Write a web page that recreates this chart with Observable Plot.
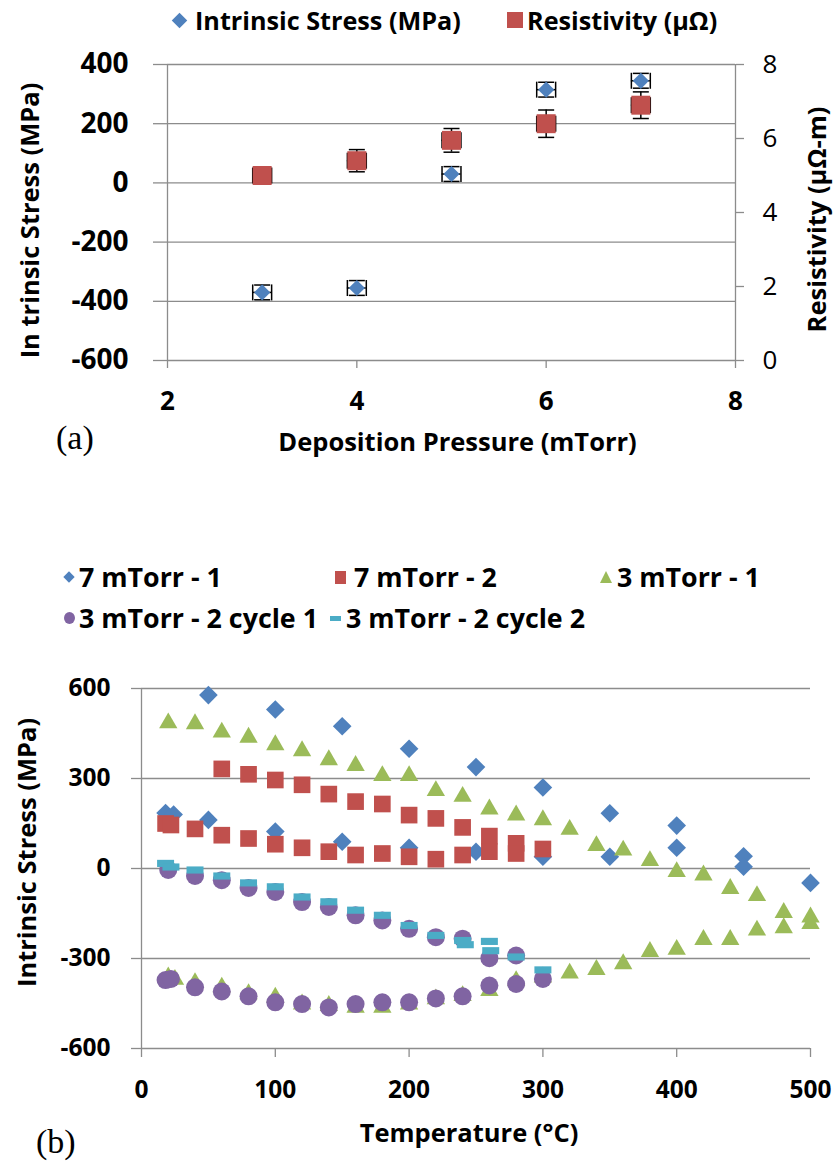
<!DOCTYPE html>
<html>
<head>
<meta charset="utf-8">
<script src="https://cdn.jsdelivr.net/npm/d3@7"></script>
<script src="https://cdn.jsdelivr.net/npm/@observablehq/plot@0.6"></script>
<style>
  html, body { margin: 0; padding: 0; background: #fff; }
  #page { position: relative; width: 833px; height: 1162px; overflow: hidden; font-family: "Open Sans", sans-serif; }
  #page svg { position: absolute; left: 0; }
  .lg { position: absolute; font-family: "Open Sans", sans-serif; font-weight: bold; line-height: 30px; white-space: nowrap; color: #000; }
  .sym { position: absolute; }
  .panel { position: absolute; font-family: "Liberation Serif", "Times New Roman", serif; font-size: 34px; line-height: 40px; color: #000; }
</style>
</head>
<body>
<div id="page"></div>
<script>
// ---------- (a) stress and resistivity vs deposition pressure ----------
const pressure = [3, 4, 5, 6, 7];
const pressureErr = [0.1, 0.1, 0.1, 0.1, 0.1];
const stress = [-370, -355, 30, 315, 345];
const stressErr = [25, 25, 25, 25, 25];
const resistivity = [5.0, 5.4, 5.95, 6.4, 6.9];
const resistivityErr = [0.2, 0.3, 0.32, 0.37, 0.36];
const pressureTicks = [2, 4, 6, 8];
const stressTicksA = [-600, -400, -200, 0, 200, 400];
const resistivityTicks = [0, 2, 4, 6, 8];

// ---------- (b) stress vs temperature ----------
const temp7m1 = [18, 24, 50, 100, 150, 200, 250, 300, 350, 400, 450, 500, 450, 400, 350, 300, 250, 200, 150, 100, 50];
const stress7m1 = [185, 180, 578, 530, 474, 399, 338, 270, 184, 143, 41, -48, 6, 69, 39, 39, 56, 69, 89, 123, 162];

const temp7m2 = [18, 22, 60, 80, 100, 120, 140, 160, 180, 200, 220, 240, 260, 280, 300,
                 40, 60, 80, 100, 120, 140, 160, 180, 200, 220, 240, 260, 280];
const stress7m2 = [150, 145, 332, 314, 295, 279, 248, 223, 215, 178, 167, 137, 108, 84, 65,
                   132, 111, 100, 81, 69, 56, 45, 50, 39, 31, 45, 56, 50];

const temp3m1 = [20, 40, 60, 80, 100, 120, 140, 160, 180, 200, 220, 240, 260, 280, 300, 320, 340, 360, 380, 400, 420, 440, 460, 480, 500,
                 500, 480, 460, 440, 420, 400, 380, 360, 340, 320, 300, 280, 260, 240, 220, 200, 180, 160, 140, 120, 100, 80, 60, 40, 25, 20];
const stress3m1 = [485, 482, 454, 437, 412, 392, 362, 343, 309, 309, 259, 240, 198, 178, 162, 130, 76, 61, 26, -11, -22, -67, -91, -147, -162,
                   -184, -198, -206, -237, -237, -270, -277, -318, -337, -349, -362, -374, -407, -424, -435, -452, -463, -463, -457, -452, -429, -418, -396, -381, -370, -362];

const temp3m2c1 = [18, 22, 40, 60, 80, 100, 120, 140, 160, 180, 200, 220, 240, 260, 280, 300,
                   20, 40, 60, 80, 100, 120, 140, 160, 180, 200, 220, 240, 260, 280];
const stress3m2c1 = [-372, -368, -396, -410, -426, -446, -452, -463, -452, -446, -446, -433, -426, -390, -385, -368,
                     -5, -25, -39, -65, -78, -112, -128, -156, -173, -201, -229, -234, -299, -290];

const temp3m2c2 = [18, 22, 40, 60, 80, 100, 120, 140, 160, 180, 200, 220, 240, 242, 260, 261, 280, 300];
const stress3m2c2 = [17, 5, -5, -25, -48, -61, -95, -111, -139, -156, -190, -223, -240, -254, -243, -274, -295, -338];

const tempTicks = [0, 100, 200, 300, 400, 500];
const stressTicksB = [-600, -300, 0, 300, 600];

// ---------- styling ----------
const BLUE = "#4F81BD", RED = "#C0504D", GREEN = "#9BBB59", PURPLE = "#8064A2", CYAN = "#4BACC6";
const GRID = "#8c8c8c";
const FONT = "'Open Sans', sans-serif";
const svgStyle = { background: "transparent", overflow: "visible", fontFamily: FONT, fontWeight: "bold" };

// custom marker shapes (size is the symbol area, r recovered from it)
const rOf = s => Math.sqrt(s / Math.PI);
const capH = { draw(c, s) { const r = rOf(s); c.moveTo(-r, 0); c.lineTo(r, 0); } };
const capV = { draw(c, s) { const r = rOf(s); c.moveTo(0, -r); c.lineTo(0, r); } };
const dashSym = { draw(c, s) { const r = rOf(s), h = 0.42 * r;
  c.moveTo(-r, -h); c.lineTo(r, -h); c.lineTo(r, h); c.lineTo(-r, h); c.closePath(); } };

// x and y error bars with end caps
function errorBars(rows, xk, yk, xe, ye) {
  const st = { stroke: "#000", strokeWidth: 1.5 };
  return [
    Plot.ruleX(rows, { x: xk, y1: d => d[yk] - d[ye], y2: d => d[yk] + d[ye], ...st }),
    Plot.ruleY(rows, { y: yk, x1: d => d[xk] - d[xe], x2: d => d[xk] + d[xe], ...st }),
    Plot.dot(rows, { x: xk, y: d => d[yk] - d[ye], symbol: capH, r: 8, fill: "none", ...st }),
    Plot.dot(rows, { x: xk, y: d => d[yk] + d[ye], symbol: capH, r: 8, fill: "none", ...st }),
    Plot.dot(rows, { x: d => d[xk] - d[xe], y: yk, symbol: capV, r: 8, fill: "none", ...st }),
    Plot.dot(rows, { x: d => d[xk] + d[xe], y: yk, symbol: capV, r: 8, fill: "none", ...st })
  ];
}

const rowsA = pressure.map((p, i) => ({
  p, pe: pressureErr[i], s: stress[i], se: stressErr[i], r: resistivity[i], re: resistivityErr[i]
}));

const frameA = { width: 833, height: 430, marginLeft: 167, marginRight: 98, marginTop: 24, marginBottom: 110 };
const titleStyle = { textAnchor: "middle", lineAnchor: "middle", fontSize: 25.5, fontWeight: "bold", fontFamily: FONT, fill: "#000" };

// left scale: intrinsic stress, with grid and x axis
const plotA = Plot.plot({
  ...frameA,
  style: svgStyle,
  x: { domain: [2, 8] },
  y: { domain: [-600, 400] },
  marks: [
    Plot.gridY({ ticks: stressTicksA, stroke: GRID, strokeOpacity: 1, strokeWidth: 1.3 }),
    Plot.ruleX([2], { stroke: GRID, strokeWidth: 1.3 }),
    Plot.axisY({ ticks: stressTicksA, tickSize: 14, tickPadding: 25, tickFormat: d => String(d),
      stroke: GRID, strokeWidth: 1.3, fill: "#000", fontSize: 28, fontWeight: "bold", fontFamily: FONT, label: null }),
    Plot.axisX({ ticks: pressureTicks, tickSize: 8, tickPadding: 23, tickFormat: d => String(d),
      stroke: GRID, strokeWidth: 1.3, fill: "#000", fontSize: 26, fontWeight: "bold", fontFamily: FONT, label: null }),
    ...errorBars(rowsA, "p", "s", "pe", "se"),
    Plot.dot(rowsA, { x: "p", y: "s", symbol: "diamond2", r: 7.3, fill: BLUE, stroke: "none" }),
    Plot.text(["In trinsic Stress (MPa)"], { text: d => d, frameAnchor: "left", dx: -137, dy: 8, rotate: -90, ...titleStyle }),
    Plot.text(["Deposition Pressure (mTorr)"], { text: d => d, frameAnchor: "bottom", dx: 6, dy: 82, ...titleStyle })
  ]
});

// right scale: resistivity, overlaid on the same frame
const plotB = Plot.plot({
  ...frameA,
  style: svgStyle,
  x: { domain: [2, 8], axis: null },
  y: { domain: [0, 8] },
  marks: [
    Plot.ruleX([8], { stroke: GRID, strokeWidth: 1.3 }),
    Plot.axisY({ anchor: "right", ticks: resistivityTicks, tickSize: 8, tickPadding: 19, tickFormat: d => String(d),
      stroke: GRID, strokeWidth: 1.3, fill: "#000", fontSize: 26, fontWeight: "normal", fontFamily: FONT, label: null }),
    ...errorBars(rowsA, "p", "r", "pe", "re"),
    Plot.dot(rowsA, { x: "p", y: "r", symbol: "square", r: 10.7, fill: RED, stroke: "none" }),
    Plot.text(["Resistivity (μΩ-m)"], { text: d => d, frameAnchor: "right", dx: 82, dy: 7, rotate: -90, ...titleStyle })
  ]
});

const pts = (t, s) => t.map((v, i) => ({ t: v, s: s[i] }));

const plotC = Plot.plot({
  width: 833, height: 502, marginLeft: 141, marginRight: 23, marginTop: 28, marginBottom: 114,
  style: svgStyle,
  x: { domain: [0, 500] },
  y: { domain: [-600, 600] },
  marks: [
    Plot.gridY({ ticks: stressTicksB, stroke: GRID, strokeOpacity: 1, strokeWidth: 1.3 }),
    Plot.ruleX([0], { stroke: GRID, strokeWidth: 1.3 }),
    Plot.axisY({ ticks: stressTicksB, tickSize: 10, tickPadding: 21, tickFormat: d => String(d),
      stroke: GRID, strokeWidth: 1.3, fill: "#000", fontSize: 24.5, fontWeight: "bold", fontFamily: FONT, label: null }),
    Plot.axisX({ ticks: tempTicks, tickSize: 9, tickPadding: 23, tickFormat: d => String(d),
      stroke: GRID, strokeWidth: 1.3, fill: "#000", fontSize: 24.5, fontWeight: "bold", fontFamily: FONT, label: null }),
    Plot.dot(pts(temp7m1, stress7m1), { x: "t", y: "s", symbol: "diamond2", r: 8.4, fill: BLUE, stroke: "none" }),
    Plot.dot(pts(temp7m2, stress7m2), { x: "t", y: "s", symbol: "square", r: 9.4, fill: RED, stroke: "none" }),
    Plot.dot(pts(temp3m1, stress3m1), { x: "t", y: "s", symbol: "triangle", r: 6.8, fill: GREEN, stroke: "none" }),
    Plot.dot(pts(temp3m2c1, stress3m2c1), { x: "t", y: "s", symbol: "circle", r: 9, fill: PURPLE, stroke: "none" }),
    Plot.dot(pts(temp3m2c2, stress3m2c2), { x: "t", y: "s", symbol: dashSym, r: 8.5, fill: CYAN, stroke: "none" }),
    Plot.text(["Intrinsic Stress (MPa)"], { text: d => d, frameAnchor: "left", dx: -114, dy: -16, rotate: -90, ...titleStyle }),
    Plot.text(["Temperature (°C)"], { text: d => d, frameAnchor: "bottom", dx: -7, dy: 85, ...titleStyle })
  ]
});

// ---------- page assembly ----------
const page = document.getElementById("page");
plotA.style.top = "40px";
plotB.style.top = "40px";
plotC.style.top = "660px";
page.append(plotA, plotB, plotC);

function label(text, left, cy, size) {
  const el = document.createElement("div");
  el.className = "lg";
  el.textContent = text;
  el.style.left = left + "px";
  el.style.top = (cy - 15) + "px";
  el.style.fontSize = size + "px";
  page.append(el);
}
function symbol(cx, cy, w, h, css) {
  const el = document.createElement("div");
  el.className = "sym";
  Object.assign(el.style, { left: (cx - w / 2) + "px", top: (cy - h / 2) + "px", width: w + "px", height: h + "px" }, css);
  page.append(el);
}
const diamondCss = c => ({ background: c, transform: "rotate(45deg)" });
const triangleCss = (c, w, h) => ({ width: "0px", height: "0px", borderLeft: (w / 2) + "px solid transparent",
  borderRight: (w / 2) + "px solid transparent", borderBottom: h + "px solid " + c });

// legend of (a)
symbol(179, 20, 11, 11, diamondCss(BLUE));
label("Intrinsic Stress (MPa)", 195, 20, 25.2);
symbol(515, 20, 16, 16, { background: RED });
label("Resistivity (μΩ)", 527, 20, 25.2);

// legend of (b)
symbol(69, 577, 8, 8, diamondCss(BLUE));
label("7 mTorr - 1", 79, 577, 26.8);
symbol(340, 577, 11, 13, { background: RED });
label("7 mTorr - 2", 354, 577, 26.8);
symbol(600, 571, 0, 0, triangleCss(GREEN, 12, 12));
label("3 mTorr - 1", 617, 577, 26.8);
symbol(69, 618, 11, 12, { background: PURPLE, borderRadius: "50%" });
label("3 mTorr - 2 cycle 1", 79, 618, 26.8);
symbol(335, 618, 11, 5, { background: CYAN });
label("3 mTorr - 2 cycle 2", 346, 618, 26.8);

// panel letters
const pa = document.createElement("div"); pa.className = "panel"; pa.textContent = "(a)";
Object.assign(pa.style, { left: "56px", top: "418px" }); page.append(pa);
const pb = document.createElement("div"); pb.className = "panel"; pb.textContent = "(b)";
Object.assign(pb.style, { left: "36px", top: "1122px" }); page.append(pb);
</script>
</body>
</html>
